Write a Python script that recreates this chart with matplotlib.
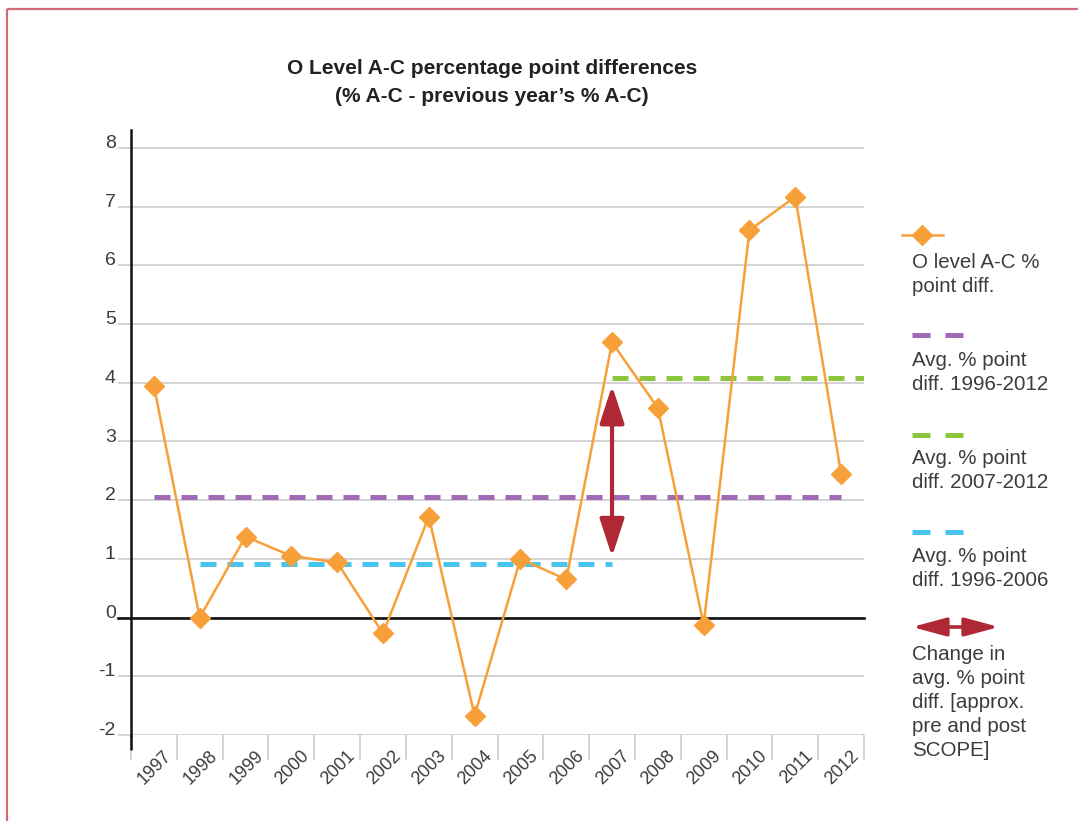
import numpy as np
import matplotlib
matplotlib.use("Agg")
import matplotlib.pyplot as plt
from matplotlib.patches import FancyArrowPatch, Rectangle
import matplotlib.transforms as mtransforms

# ---------------- data ----------------
years = [1997, 1998, 1999, 2000, 2001, 2002, 2003, 2004,
         2005, 2006, 2007, 2008, 2009, 2010, 2011, 2012]
values = [3.95, 0.00, 1.38, 1.05, 0.94, -0.27, 1.72, -1.67,
          1.00, 0.65, 4.69, 3.57, -0.12, 6.60, 7.17, 2.45]

avg_all = 2.06          # Avg. % point diff. 1996-2012
avg_all_span = (1997, 2012)
avg_post = 4.08         # Avg. % point diff. 2007-2012
avg_post_span = (2007, 2012)
avg_pre = 0.92          # Avg. % point diff. 1996-2006
avg_pre_span = (1998, 2007)

arrow_year = 2007
arrow_top = 3.95
arrow_bottom = 1.04

yticks = [-2, -1, 0, 1, 2, 3, 4, 5, 6, 7, 8]

title_lines = ["O Level A-C percentage point differences",
               "(% A-C - previous year\u2019s % A-C)"]
legend_texts = [
    ["O level A-C %", "point diff."],
    ["Avg. % point", "diff. 1996-2012"],
    ["Avg. % point", "diff. 2007-2012"],
    ["Avg. % point", "diff. 1996-2006"],
    ["Change in", "avg. % point", "diff. [approx.", "pre and post", "SCOPE]"],
]

# ---------------- style ----------------
ORANGE = "#f7a03a"
PURPLE = "#a06ab4"
GREEN = "#8cc63e"
BLUE = "#45c5f0"
RED = "#b02735"
GRID = "#c8c8c8"
TXT = "#3c3c3c"
ARROWSTYLE = "<|-|>,head_length=2.3,head_width=0.75"

plt.rcParams["font.family"] = ["Liberation Sans", "DejaVu Sans"]

W, H = 1078, 821
fig = plt.figure(figsize=(W / 100, H / 100), dpi=100)

ax_l, ax_r, ax_t, ax_b = 131, 864, 130, 735
ax = fig.add_axes([ax_l / W, (H - ax_b) / H, (ax_r - ax_l) / W, (ax_b - ax_t) / H])

x = np.arange(len(years))
pos = {y: i for i, y in enumerate(years)}
ax.set_xlim(-0.5, len(years) - 0.5)
ppu = (735 - 148) / 10.0
ax.set_ylim(-2, 8 + 18 / ppu)

# grid & y ticks
ax.set_yticks(yticks)
ax.set_yticklabels([str(v) for v in yticks])
ax.yaxis.grid(True, color=GRID, lw=1.1)
ax.set_axisbelow(True)
ax.tick_params(axis="y", length=9.4, width=1.1, color=GRID, labelsize=14,
               labelcolor=TXT, pad=1.5)
for lab in ax.get_yticklabels():
    lab.set_verticalalignment("baseline")

# x ticks
ax.set_xticks(x)
ax.set_xticklabels([str(y) for y in years], rotation=45, ha="right", va="top",
                   rotation_mode="anchor", fontsize=13, color=TXT)
ax.set_xticks(np.arange(-0.5, len(years), 1.0), minor=True)
ax.tick_params(axis="x", which="major", length=0, pad=9)
ax.tick_params(axis="x", which="minor", length=18, width=1.1, color=GRID)
off = mtransforms.ScaledTranslation(9 / 100, 0, fig.dpi_scale_trans)
for lab in ax.get_xticklabels():
    lab.set_transform(lab.get_transform() + off)

for s in ["top", "right", "bottom"]:
    ax.spines[s].set_visible(False)
ax.spines["left"].set_color("#111111")
ax.spines["left"].set_linewidth(1.8)
ax.spines["left"].set_zorder(6)
# extend y-axis line below the last gridline
ax.plot([0, 0], [-2, -2 - 15 / ppu], transform=ax.get_yaxis_transform(),
        color="#111111", lw=1.8, clip_on=False, solid_capstyle="butt", zorder=6)
# zero line
ax.plot([-13 / (ax_r - ax_l), 1], [0, 0], transform=ax.get_yaxis_transform(),
        color="#111111", lw=1.9, clip_on=False, zorder=2)

# average lines
dash = (0, (3.2, 2.2))
ax.plot([pos[avg_all_span[0]], pos[avg_all_span[1]]], [avg_all, avg_all],
        ls=dash, lw=3.6, color=PURPLE, zorder=3)
ax.plot([pos[avg_pre_span[0]], pos[avg_pre_span[1]]], [avg_pre, avg_pre],
        ls=dash, lw=3.6, color=BLUE, zorder=3)
ax.plot([pos[avg_post_span[0]], pos[avg_post_span[1]] + 0.5], [avg_post, avg_post],
        ls=dash, lw=3.6, color=GREEN, zorder=3)

# main series
ax.plot(x, values, color=ORANGE, lw=1.8, marker="D", ms=10.5, zorder=4)

# change arrow
arr = FancyArrowPatch((pos[arrow_year], arrow_bottom), (pos[arrow_year], arrow_top),
                      arrowstyle=ARROWSTYLE, mutation_scale=10, lw=3.0, color=RED,
                      shrinkA=0, shrinkB=0, zorder=5)
ax.add_patch(arr)

# ---------------- overlay: title, legend, border ----------------
ov = fig.add_axes([0, 0, 1, 1], zorder=10)
ov.set_xlim(0, W)
ov.set_ylim(H, 0)
ov.axis("off")
ov.patch.set_alpha(0)

ov.add_patch(Rectangle((7, 9), W, H, fill=False, ec="#d46a78", lw=1.6))

ov.text(492, 68, title_lines[0], ha="center", va="center", fontsize=15,
        fontweight="bold", color="#222222")
ov.text(492, 96, title_lines[1], ha="center", va="center", fontsize=15,
        fontweight="bold", color="#222222")

tx = 912
# orange series symbol
ov.plot([902, 943], [235, 235], color=ORANGE, lw=1.8)
ov.plot([922], [235], marker="D", ms=10.5, color=ORANGE)
# dashed symbols
for yy, col in [(335, PURPLE), (435, GREEN), (532, BLUE)]:
    ov.plot([912, 930], [yy, yy], color=col, lw=3.6, solid_capstyle="butt")
    ov.plot([945, 963], [yy, yy], color=col, lw=3.6, solid_capstyle="butt")
# arrow symbol
ov.add_patch(FancyArrowPatch((912, 627), (999, 627),
                             arrowstyle="<|-|>,head_length=2.6,head_width=0.7",
                             mutation_scale=8, lw=2.6, color=RED,
                             shrinkA=0, shrinkB=0))

text_starts = [262, 360, 458, 556, 654]
for lines, y0 in zip(legend_texts, text_starts):
    for i, line in enumerate(lines):
        ov.text(tx, y0 + i * 24, line, ha="left", va="center", fontsize=14.8,
                color=TXT)

fig.savefig("out.png", dpi=100)
